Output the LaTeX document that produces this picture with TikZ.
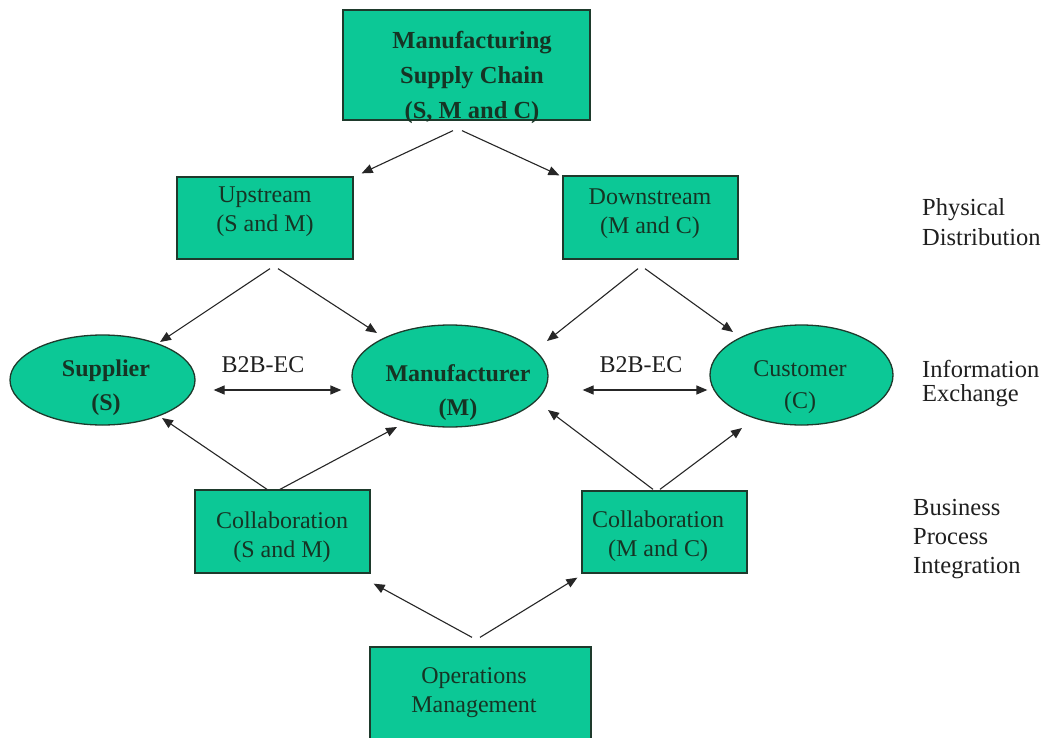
\documentclass[tikz,border=0pt]{standalone}
\usepackage{fontspec}
\setmainfont{Liberation Serif}
\usetikzlibrary{arrows.meta,calc,shapes.geometric}
\definecolor{boxfill}{RGB}{12,200,150}
\definecolor{boxline}{RGB}{30,58,44}
\definecolor{boxtext}{RGB}{22,52,36}
\begin{document}
\begin{tikzpicture}[x=1pt,y=-1pt,
  box/.style={rectangle, draw=boxline, fill=boxfill, line width=1.3pt, inner sep=0pt},
  oval/.style={ellipse, draw=boxline, fill=boxfill, line width=1.3pt, inner sep=0pt},
  txt/.style={text=boxtext, align=center, inner sep=0pt, font=\fontsize{24}{29}\selectfont},
  btxt/.style={text=boxtext, align=center, inner sep=0pt, font=\fontsize{24}{34}\selectfont\bfseries},
  side/.style={text=black!88, align=left, anchor=west, inner sep=0pt},
  arr/.style={-{Triangle[length=11pt,width=9pt]}, line width=1.1pt, draw=black!85},
  darr/.style={{Triangle[length=11pt,width=9pt]}-{Triangle[length=11pt,width=9pt]}, line width=1.3pt, draw=black!85}]
\fill[white] (0,0) rectangle (1043,738);
\path[use as bounding box] (0,0) rectangle (1043,738);

% boxes
\node[box, minimum width=247pt, minimum height=110pt] (top) at (466.5,65) {};
\node[btxt, font=\fontsize{24.5}{35}\selectfont\bfseries] (topT) at (472,77) {Manufacturing\\Supply Chain\\(S, M and C)};

\node[box, minimum width=176pt, minimum height=82pt] (up) at (265,218) {};
\node[txt] (upT) at (265,212) {Upstream\\(S and M)};

\node[box, minimum width=175pt, minimum height=83pt] (dn) at (650.5,217.5) {};
\node[txt] (dnT) at (650,214) {Downstream\\(M and C)};

% ellipses
\node[oval, minimum width=185pt, minimum height=90pt] (sup) at (102.5,380) {};
\node[btxt] (supT) at (106,388) {Supplier\\(S)};

\node[oval, minimum width=196pt, minimum height=102pt] (man) at (450,376) {};
\node[btxt] (manT) at (458,393) {Manufacturer\\(M)};

\node[oval, minimum width=183pt, minimum height=100pt] (cus) at (801.5,375) {};
\node[txt, font=\fontsize{24}{32}\selectfont] (cusT) at (800,387) {Customer\\(C)};

% lower boxes
\node[box, minimum width=175pt, minimum height=83pt] (csm) at (282.5,531.5) {};
\node[txt] (csmT) at (282,537) {Collaboration\\(S and M)};

\node[box, minimum width=165pt, minimum height=82pt] (cmc) at (664.5,532) {};
\node[txt] (cmcT) at (658,536) {Collaboration\\(M and C)};

\node[box, minimum width=221pt, minimum height=98pt] (ops) at (480.5,696) {};
\node[txt] (opsT) at (474,693) {Operations\\Management};

% B2B labels
\node[text=black!88, inner sep=0pt, font=\fontsize{24}{29}\selectfont] (b2bL) at (263,365) {B2B-EC};
\node[text=black!88, inner sep=0pt, font=\fontsize{24}{29}\selectfont] (b2bR) at (641,365) {B2B-EC};

% side labels
\node[side, font=\fontsize{24.5}{30}\selectfont] (phys) at (922,222) {Physical\\Distribution};
\node[side, font=\fontsize{24.5}{24}\selectfont] (info) at (922,384) {Information\\Exchange};
\node[side, font=\fontsize{24.5}{29}\selectfont] (bpi) at (913,539) {Business\\Process\\Integration};

% arrows
\draw[arr] ($(top.south)+(-13.5,10)$) -- ($(up.north east)+(8,-3)$);
\draw[arr] ($(top.south)+(-4.5,10)$) -- ($(dn.north west)+(-3,0)$);
\draw[arr] ($(up.south)+(5,9)$) -- ($(sup.center)+(57.5,-38)$);
\draw[arr] ($(up.south)+(13,9)$) -- ($(man.center)+(-73,-43)$);
\draw[arr] ($(dn.south)+(-12.5,9)$) -- ($(man.center)+(97,-35)$);
\draw[arr] ($(dn.south)+(-5.5,9)$) -- ($(cus.center)+(-68.5,-43)$);
\draw[arr] ($(csm.north)+(-15.5,0)$) -- ($(sup.center)+(59.5,38)$);
\draw[arr] ($(csm.north)+(-2.5,0)$) -- ($(man.center)+(-53,51)$);
\draw[arr] ($(cmc.north)+(-11.5,-1)$) -- ($(man.center)+(98,34)$);
\draw[arr] ($(cmc.north)+(-4.5,-1)$) -- ($(cus.center)+(-59.5,53)$);
\draw[arr] ($(ops.north)+(-8.5,-9)$) -- ($(csm.south east)+(3,10)$);
\draw[arr] ($(ops.north)+(-0.5,-9)$) -- ($(cmc.south west)+(-4,4)$);
\draw[darr] ($(sup.east)+(18,10)$) -- ($(man.west)+(-10,14)$);
\draw[darr] ($(man.east)+(34,14)$) -- ($(cus.west)+(-2,15)$);
\end{tikzpicture}
\end{document}
